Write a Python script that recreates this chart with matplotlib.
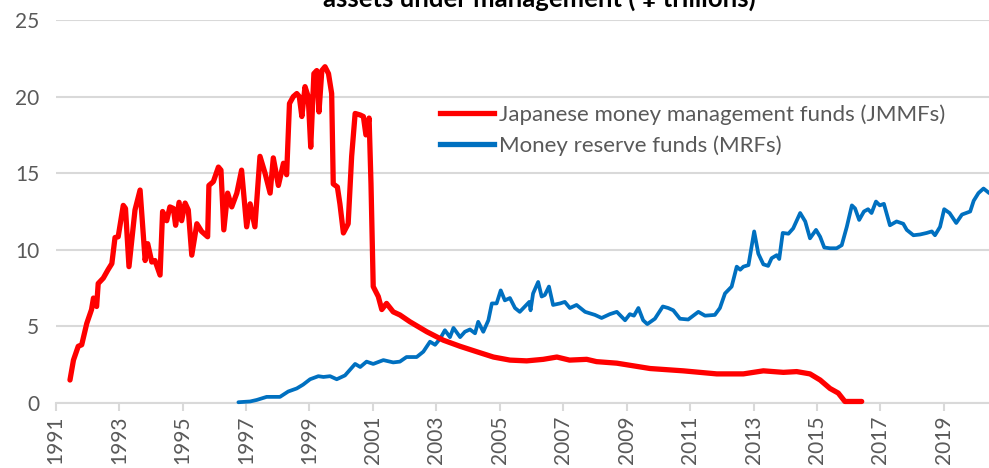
import matplotlib
matplotlib.use("Agg")
import matplotlib.pyplot as plt
from matplotlib.lines import Line2D

plt.rcParams['font.family'] = ['Lato', 'DejaVu Sans']

# Japanese money management funds (JMMFs), decimal year / ¥ trillions
jmmf_year = [1991.45, 1991.56, 1991.71, 1991.82, 1991.98, 1992.13, 1992.19, 1992.29, 1992.34,
             1992.50, 1992.65, 1992.77, 1992.87, 1992.97, 1993.13, 1993.20, 1993.31, 1993.50,
             1993.66, 1993.82, 1993.90, 1994.03, 1994.13, 1994.29, 1994.37, 1994.50, 1994.60,
             1994.71, 1994.78, 1994.89, 1994.97, 1995.08, 1995.18, 1995.29, 1995.45, 1995.60,
             1995.79, 1995.83, 1995.97, 1996.13, 1996.21, 1996.30, 1996.42, 1996.55, 1996.71,
             1996.86, 1997.02, 1997.13, 1997.28, 1997.44, 1997.60, 1997.76, 1997.86, 1998.02,
             1998.18, 1998.28, 1998.37, 1998.49, 1998.60, 1998.68, 1998.76, 1998.86, 1998.96,
             1999.04, 1999.14, 1999.23, 1999.30, 1999.39, 1999.49, 1999.60, 1999.70, 1999.75,
             1999.88, 1999.96, 2000.07, 2000.22, 2000.33, 2000.44, 2000.60, 2000.70, 2000.78,
             2000.88, 2000.94, 2001.01, 2001.17, 2001.28, 2001.43, 2001.64, 2001.85, 2002.17,
             2002.70, 2003.22, 2003.75, 2004.27, 2004.80, 2005.32, 2005.85, 2006.37, 2006.80,
             2007.20, 2007.74, 2008.05, 2008.69, 2009.74, 2010.78, 2011.84, 2012.68, 2013.31,
             2013.94, 2014.36, 2014.78, 2015.10, 2015.41, 2015.67, 2015.88, 2016.41]
jmmf_value = [1.5, 2.8, 3.7, 3.8, 5.2, 6.1, 6.85, 6.3, 7.8,
              8.15, 8.7, 9.1, 10.8, 10.85, 12.9, 12.7, 8.9, 12.6,
              13.9, 9.3, 10.4, 9.2, 9.3, 8.35, 12.5, 11.9, 12.8,
              12.7, 11.6, 13.1, 11.9, 13.05, 12.6, 9.65, 11.7, 11.2,
              10.85, 14.2, 14.45, 15.4, 15.2, 11.3, 13.7, 12.8, 13.7,
              15.2, 11.5, 13.0, 11.5, 16.1, 15.0, 13.7, 16.0, 14.2,
              15.65, 14.9, 19.55, 20.0, 20.2, 20.0, 18.7, 20.65, 20.0,
              16.7, 21.5, 21.7, 19.0, 21.7, 21.95, 21.5, 20.2, 14.3,
              14.1, 13.0, 11.1, 11.7, 16.1, 18.9, 18.8, 18.7, 17.5,
              18.6, 14.3, 7.6, 6.95, 6.1, 6.5, 5.95, 5.75, 5.3,
              4.65, 4.1, 3.7, 3.35, 3.0, 2.8, 2.75, 2.85, 3.0,
              2.8, 2.85, 2.7, 2.6, 2.25, 2.1, 1.9, 1.9, 2.1,
              2.0, 2.05, 1.9, 1.5, 0.95, 0.65, 0.1, 0.1]

# Money reserve funds (MRFs), decimal year / ¥ trillions
mrf_year = [1996.76, 1997.13, 1997.34, 1997.65, 1998.07, 1998.33, 1998.60, 1998.80, 1999.02,
            1999.28, 1999.44, 1999.65, 1999.86, 2000.12, 2000.44, 2000.60, 2000.80, 2001.01,
            2001.33, 2001.54, 2001.64, 2001.85, 2002.06, 2002.38, 2002.59, 2002.80, 2002.96,
            2003.12, 2003.27, 2003.43, 2003.54, 2003.75, 2003.90, 2004.06, 2004.22, 2004.32,
            2004.48, 2004.64, 2004.75, 2004.90, 2005.03, 2005.16, 2005.32, 2005.48, 2005.63,
            2005.79, 2005.93, 2005.97, 2006.05, 2006.21, 2006.32, 2006.42, 2006.55, 2006.68,
            2006.90, 2007.05, 2007.21, 2007.42, 2007.69, 2008.00, 2008.21, 2008.47, 2008.69,
            2008.95, 2009.10, 2009.23, 2009.37, 2009.52, 2009.65, 2009.89, 2010.14, 2010.31,
            2010.47, 2010.68, 2010.94, 2011.26, 2011.47, 2011.78, 2011.94, 2012.10, 2012.31,
            2012.47, 2012.58, 2012.68, 2012.84, 2013.02, 2013.15, 2013.31, 2013.46, 2013.57,
            2013.73, 2013.81, 2013.92, 2014.10, 2014.25, 2014.47, 2014.63, 2014.78, 2014.97,
            2015.10, 2015.23, 2015.41, 2015.62, 2015.78, 2015.94, 2016.10, 2016.20, 2016.33,
            2016.48, 2016.61, 2016.72, 2016.86, 2016.98, 2017.11, 2017.30, 2017.51, 2017.72,
            2017.83, 2018.04, 2018.25, 2018.46, 2018.62, 2018.72, 2018.88, 2019.01, 2019.18,
            2019.39, 2019.57, 2019.83, 2019.94, 2020.09, 2020.25, 2020.43]
mrf_value = [0.05, 0.1, 0.2, 0.4, 0.4, 0.75, 0.95, 1.2, 1.55,
             1.75, 1.7, 1.75, 1.55, 1.8, 2.55, 2.35, 2.7, 2.55,
             2.8, 2.7, 2.65, 2.7, 3.0, 3.0, 3.35, 4.0, 3.8,
             4.2, 4.75, 4.3, 4.9, 4.3, 4.65, 4.8, 4.55, 5.3,
             4.65, 5.4, 6.5, 6.5, 7.35, 6.7, 6.85, 6.2, 5.95,
             6.3, 6.6, 6.05, 7.15, 7.9, 6.95, 7.05, 7.6, 6.4,
             6.5, 6.6, 6.2, 6.4, 5.95, 5.75, 5.55, 5.8, 5.95,
             5.4, 5.8, 5.7, 6.2, 5.4, 5.15, 5.5, 6.3, 6.2,
             6.05, 5.5, 5.45, 5.95, 5.7, 5.75, 6.2, 7.15, 7.6,
             8.9, 8.7, 8.9, 9.0, 11.2, 9.75, 9.05, 8.95, 9.45,
             9.65, 9.4, 11.1, 11.05, 11.4, 12.4, 11.85, 10.75, 11.3,
             10.85, 10.15, 10.1, 10.1, 10.3, 11.5, 12.9, 12.7, 11.95,
             12.5, 12.65, 12.4, 13.15, 12.9, 13.0, 11.6, 11.85, 11.7,
             11.3, 10.95, 11.0, 11.1, 11.2, 10.95, 11.5, 12.65, 12.4,
             11.75, 12.3, 12.5, 13.2, 13.7, 14.0, 13.7]

x_ticks = list(range(1991, 2021, 2))
x_tick_labels = [str(y) for y in x_ticks]
y_ticks = [0, 5, 10, 15, 20, 25]

label_jmmf = "Japanese money management funds (JMMFs)"
label_mrf = "Money reserve funds (MRFs)"
title = "assets under management ( ¥ trillions)"

W, H = 989, 468
fig = plt.figure(figsize=(W / 100, H / 100), dpi=100)
ax = fig.add_axes([55.7 / W, 1 - 403 / H, 1 - 55.7 / W, (403 - 20) / H])

text_gray = "#595959"
grid_gray = "#D9D9D9"

ax.plot(mrf_year, mrf_value, color="#0070C0", lw=2.7, solid_joinstyle="round",
        solid_capstyle="round", clip_on=False, zorder=3)
ax.plot(jmmf_year, jmmf_value, color="#FF0000", lw=3.8, solid_joinstyle="round",
        solid_capstyle="round", clip_on=False, zorder=4)

ax.set_xlim(1991.0, 1991.0 + (W - 55.7) / 31.72)
ax.set_ylim(0, 25)
ax.set_yticks(y_ticks)
ax.set_xticks(x_ticks)
ax.set_xticklabels(x_tick_labels, rotation=90)

ax.grid(axis="y", color=grid_gray, lw=1.5)
ax.set_axisbelow(True)
for s in ["top", "right", "left"]:
    ax.spines[s].set_visible(False)
ax.spines["bottom"].set_color(grid_gray)
ax.spines["bottom"].set_linewidth(1.5)
ax.tick_params(axis="y", length=0, pad=12, labelsize=15, labelcolor=text_gray)
ax.tick_params(axis="x", length=6, width=1.5, color=grid_gray, pad=3,
               labelsize=15, labelcolor=text_gray)

handles = [Line2D([], [], color="#FF0000", lw=3.8),
           Line2D([], [], color="#0070C0", lw=3.8)]
leg = fig.legend(handles, [label_jmmf, label_mrf], loc="upper left",
                 bbox_to_anchor=(440 / W, 1 - 104 / H), frameon=False,
                 fontsize=16, handlelength=2.45, handletextpad=0.2,
                 labelspacing=0.49, borderpad=0, borderaxespad=0)
for t in leg.get_texts():
    t.set_color(text_gray)

fig.text(539 / W, 1 - 7 / H, title, ha="center", va="baseline",
         fontsize=18.5, fontweight="bold", color="black")

fig.savefig("out.png", dpi=100)
